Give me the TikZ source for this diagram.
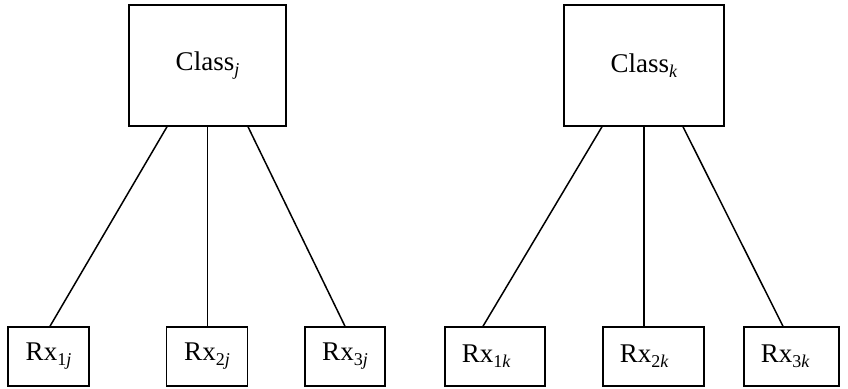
\documentclass[tikz,border=0pt]{standalone}
\usepackage{fontspec}
\setmainfont{Liberation Serif}
\newcommand{\mysub}[1]{{\fontsize{18}{18}\selectfont\raisebox{-5pt}{#1}}}
\begin{document}
\begin{tikzpicture}[x=1pt,y=1pt,
  box/.style={draw,line width=1.5pt,font=\fontsize{27}{30}\selectfont,inner sep=0pt},
  leftbox/.style={box,minimum width=81pt,minimum height=59pt},
  rightbox/.style={box,anchor=west,minimum height=59pt,align=left,inner xsep=17pt},
  classbox/.style={box,minimum height=121pt},
  link/.style={line width=1.5pt}]
\useasboundingbox (0,0) rectangle (848,388);
\node[classbox,minimum width=157pt] (cj) at (207.5,322.5) {Class\mysub{\textit{j}}};
\node[classbox,minimum width=160pt] (ck) at (644,322.5) {Class\mysub{\textit{k}}};
\node[leftbox] (r1j) at (48.5,31.5) {Rx\mysub{1\textit{j}}};
\node[leftbox] (r2j) at (207,31.5) {Rx\mysub{2\textit{j}}};
\node[leftbox,minimum width=80pt] (r3j) at (345,31.5) {Rx\mysub{3\textit{j}}};
\node[rightbox,text width=66pt] (r1k) at (444,31.5) {Rx\mysub{1\textit{k}}};
\node[rightbox,text width=67pt] (r2k) at (602,31.5) {Rx\mysub{2\textit{k}}};
\node[rightbox,text width=61pt] (r3k) at (743,31.5) {Rx\mysub{3\textit{k}}};
\draw[link] ([xshift=-40.5pt]cj.south) -- ([xshift=1.5pt]r1j.north);
\draw[link] (cj.south) -- (cj.south |- r2j.north);
\draw[link] ([xshift=40.5pt]cj.south) -- (r3j.north);
\draw[link] ([xshift=-42pt]ck.south) -- ([xshift=39pt]r1k.north west);
\draw[link] (ck.south) -- (ck.south |- r2k.north);
\draw[link] ([xshift=39pt]ck.south) -- ([xshift=40pt]r3k.north west);
\end{tikzpicture}
\end{document}
